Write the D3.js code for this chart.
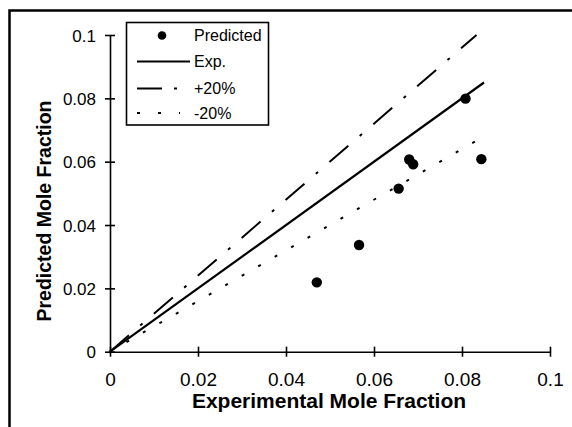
<!DOCTYPE html>
<html>
<head>
<meta charset="utf-8">
<script src="https://cdn.jsdelivr.net/npm/d3@7"></script>
<style>
  body { margin: 0; background: #fff; }
  svg { display: block; font-family: "Liberation Sans", Arial, sans-serif; }
</style>
</head>
<body>
<svg id="chart" width="572" height="427"></svg>
<script>
// predicted vs experimental mole fractions
const expX = [0.047, 0.0566, 0.0656, 0.068, 0.0689, 0.0808, 0.0844];
const predY = [0.0219, 0.0337, 0.0515, 0.0607, 0.0592, 0.0799, 0.0608];

// reference lines (end points)
const expLine = [[0, 0], [0.085, 0.085]];
const plusLine = [[0, 0], [0.0833, 0.1]];
const minusLine = [[0, 0], [0.085, 0.068]];

const tickValues = [0, 0.02, 0.04, 0.06, 0.08, 0.1];
const tickLabels = ["0", "0.02", "0.04", "0.06", "0.08", "0.1"];

const legendItems = ["Predicted", "Exp.", "+20%", "-20%"];

const svg = d3.select("#chart");

// outer frame, runs off the right and bottom edge
svg.append("rect")
    .attr("x", 9.5).attr("y", 10.5)
    .attr("width", 700).attr("height", 600)
    .attr("fill", "white")
    .attr("stroke", "black")
    .attr("stroke-width", 2.5);

const x = d3.scaleLinear().domain([0, 0.1]).range([110, 550]);
const y = d3.scaleLinear().domain([0, 0.1]).range([351.7, 35]);

// y axis
const yAxis = svg.append("g")
    .attr("transform", `translate(${x(0)},0)`)
    .call(d3.axisLeft(y)
      .tickValues(tickValues)
      .tickFormat((d, i) => tickLabels[i])
      .tickSizeInner(5)
      .tickSizeOuter(0)
      .tickPadding(9));
yAxis.selectAll(".tick line").attr("x1", 5).attr("x2", -5);
yAxis.selectAll("text")
    .attr("font-size", 17)
    .attr("dy", "0.36em");

// x axis
const xAxis = svg.append("g")
    .attr("transform", `translate(0,${y(0)})`)
    .call(d3.axisBottom(x)
      .tickValues(tickValues)
      .tickFormat((d, i) => tickLabels[i])
      .tickSizeInner(5)
      .tickSizeOuter(0)
      .tickPadding(16));
xAxis.selectAll(".tick line").attr("y1", -5).attr("y2", 5);
xAxis.selectAll("text").attr("font-size", 19);

svg.selectAll(".domain, .tick line")
    .attr("stroke", "black")
    .attr("stroke-width", 1.6);
svg.selectAll(".tick text").attr("fill", "black");

// axis titles
svg.append("text")
    .attr("x", 329).attr("y", 408)
    .attr("text-anchor", "middle")
    .attr("font-size", 21)
    .attr("font-weight", "bold")
    .text("Experimental Mole Fraction");

svg.append("text")
    .attr("transform", "translate(51,211) rotate(-90)")
    .attr("text-anchor", "middle")
    .attr("font-size", 19.5)
    .attr("font-weight", "bold")
    .text("Predicted Mole Fraction");

// lines
const line = d3.line().x(d => x(d[0])).y(d => y(d[1]));

svg.append("path")
    .datum(plusLine)
    .attr("d", line)
    .attr("fill", "none")
    .attr("stroke", "black")
    .attr("stroke-width", 2)
    .attr("stroke-dasharray", "25,15,3,15");

svg.append("path")
    .datum(minusLine)
    .attr("d", line)
    .attr("fill", "none")
    .attr("stroke", "black")
    .attr("stroke-width", 2)
    .attr("stroke-dasharray", "3,16");

svg.append("path")
    .datum(expLine)
    .attr("d", line)
    .attr("fill", "none")
    .attr("stroke", "black")
    .attr("stroke-width", 2.2);

// predicted points
svg.append("g")
  .selectAll("circle")
  .data(expX)
  .join("circle")
    .attr("cx", d => x(d))
    .attr("cy", (d, i) => y(predY[i]))
    .attr("r", 5.2)
    .attr("fill", "black");

// legend
const legend = svg.append("g");
legend.append("rect")
    .attr("x", 126.5).attr("y", 22.5)
    .attr("width", 142).attr("height", 102.5)
    .attr("fill", "white")
    .attr("stroke", "black")
    .attr("stroke-width", 1.6);

const rowY = [35.5, 61.5, 88.5, 113];
const dashes = [null, null, "25,12,3,20", "3,18"];

legend.selectAll("text")
  .data(legendItems)
  .join("text")
    .attr("x", 194)
    .attr("y", (d, i) => rowY[i] + 5.8)
    .attr("font-size", 16)
    .text(d => d);

legend.append("circle")
    .attr("cx", 162).attr("cy", rowY[0])
    .attr("r", 4.3)
    .attr("fill", "black");

[1, 2, 3].forEach(i => {
  legend.append("line")
      .attr("x1", 137).attr("x2", i === 1 ? 190 : 180)
      .attr("y1", rowY[i]).attr("y2", rowY[i])
      .attr("stroke", "black")
      .attr("stroke-width", i === 1 ? 2.2 : 2)
      .attr("stroke-dasharray", dashes[i]);
});
</script>
</body>
</html>
